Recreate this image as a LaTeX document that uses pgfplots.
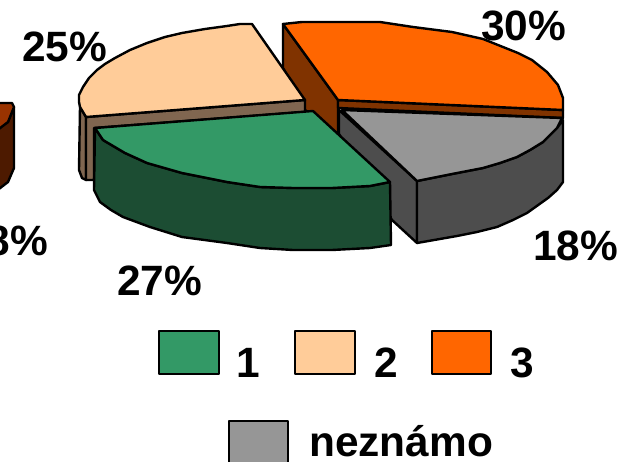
\documentclass[border=0pt]{standalone}
\usepackage{pgfplots}
\pgfplotsset{compat=1.18}
\usepackage{fontspec}
\setmainfont{Liberation Sans}
\definecolor{gT}{HTML}{339966}\definecolor{gS}{HTML}{1C4D33}
\definecolor{pT}{HTML}{FFCC99}\definecolor{pS}{HTML}{806650}
\definecolor{oT}{HTML}{FF6600}\definecolor{oS}{HTML}{803300}
\definecolor{yT}{HTML}{969696}\definecolor{yS}{HTML}{4D4D4D}
\definecolor{bT}{HTML}{993300}\definecolor{bS}{HTML}{4D1A00}
\tikzset{lab/.style={font=\fontsize{42.4}{42.4}\selectfont\bfseries,anchor=base west,inner sep=0pt,text=black}}
\begin{document}
\begin{tikzpicture}[x=1pt,y=1pt]
\useasboundingbox (0,0) rectangle (628,462);
\begin{axis}[at={(0,0)},anchor=south west,scale only axis,width=628pt,height=462pt,
 xmin=0,xmax=628,ymin=0,ymax=462,y dir=reverse,axis lines=none,clip=true,
 every axis plot/.append style={draw=black,line width=2.4pt,line join=round,no markers}]
% left fragment
\addplot[fill=bS] coordinates {(-5,130)(8,122)(14,107)(14,168)(8,182)(-5,192)} --cycle;
\addplot[fill=bT] coordinates {(-5,103)(12,103)(14,107)(8,122)(-5,132)} --cycle;
% orange
\addplot[fill=oS] coordinates {(283,24)(338,100)(338,134)(305,110)(283,68)} --cycle;
\addplot[fill=oS] coordinates {(338,100)(563,110)(563,118)(338,108)} --cycle;
\addplot[fill=oT] coordinates {(283,24)(302,22)(340,22)(380,22)(413,27)(452,32)(483,39)(503,47)(518,53)(532,60)(547,72)(558,85)(563,98)(563,110)(338,100)} --cycle;
% grey
\addplot[fill=yS] coordinates {(339,110)(417,181)(417,243)(392,220)(339,134)} --cycle;
\addplot[fill=yS] coordinates {(417,181)(452,174)(483,168)(500,163)(517,157)(530,150)(543,142)(557,128)(563,120)(563,182)(557,190)(548,198)(527,213)(513,220)(497,227)(477,232)(457,236)(417,243)} --cycle;
\addplot[fill=yT] coordinates {(342,110)(562,118)(557,128)(543,142)(530,150)(517,157)(500,163)(483,168)(452,174)(417,181)} --cycle;
% peach
\addplot[fill=pS] coordinates {(80,107)(86,117)(86,180)(82,178)(79,170)} --cycle;
\addplot[fill=pS] coordinates {(86,117)(305,100)(305,112)(94,128)(94,180)(86,180)} --cycle;
\addplot[fill=pT] coordinates {(252,24)(240,24)(227,26)(205,29)(182,33)(165,37)(147,43)(130,50)(115,58)(105,64)(97,70)(89,78)(83,87)(79,95)(79,102)(80,107)(86,117)(305,100)} --cycle;
% green
\addplot[fill=gS] coordinates {(95,128)(94,190)(100,202)(111,210)(123,217)(150,227)(182,237)(227,243)(260,248)(293,250)(332,250)(370,248)(391,245)(390,182)(370,186)(332,188)(293,188)(260,187)(227,182)(182,173)(147,163)(125,153)(103,140)} --cycle;
\addplot[fill=gT] coordinates {(313,111)(95,128)(103,140)(125,153)(147,163)(182,173)(227,182)(260,187)(293,188)(332,188)(370,186)(390,182)} --cycle;
% legend swatches
\addplot[fill=gT,line width=1.6pt] coordinates {(159,331)(219,331)(219,374)(159,374)} --cycle;
\addplot[fill=pT,line width=1.6pt] coordinates {(295,331)(355,331)(355,374)(295,374)} --cycle;
\addplot[fill=oT,line width=1.6pt] coordinates {(432,331)(491,331)(491,374)(432,374)} --cycle;
\addplot[fill=yT,line width=1.6pt] coordinates {(229,421)(288,421)(288,470)(229,470)} --cycle;
% labels
\node[lab] at (axis cs:22,62) {25\%};
\node[lab] at (axis cs:481,41) {30\%};
\node[lab] at (axis cs:533,260) {18\%};
\node[lab] at (axis cs:117,295) {27\%};
\node[lab,anchor=base east] at (axis cs:48,255) {18\%};
\node[lab] at (axis cs:236,377) {1};
\node[lab] at (axis cs:374,377) {2};
\node[lab] at (axis cs:510,377) {3};
\node[lab] at (axis cs:309,456) {neznámo};
\end{axis}
\end{tikzpicture}
\end{document}
